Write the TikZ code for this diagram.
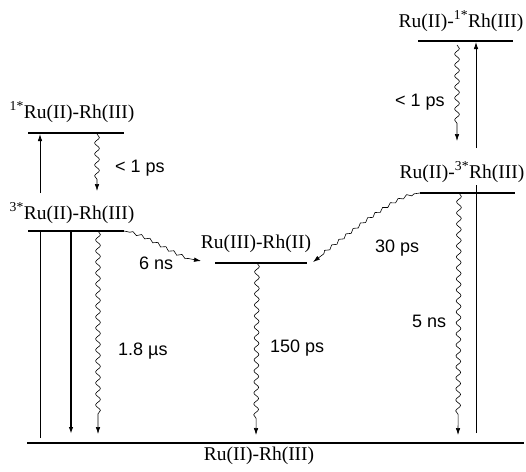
\documentclass[tikz,border=0pt]{standalone}
\usepackage{fontspec}
\setmainfont{Liberation Serif}
\newfontfamily\ratefont{Liberation Sans}
\usetikzlibrary{decorations.pathmorphing,arrows.meta}
\begin{document}
\begin{tikzpicture}[x=1pt,y=-1pt,
  level/.style={line width=1.1pt},
  state/.style={font=\fontsize{19.5}{22}\selectfont, inner sep=0pt, anchor=base},
  rate/.style={font=\ratefont\fontsize{18}{20}\selectfont, inner sep=0pt, anchor=base west},
  tip/.style={-{Latex[length=7pt,width=4.5pt]}},
  absorb/.style={line width=0.8pt},
  emit/.style={tip, line width=1.5pt},
  wavy/.style={tip, line width=0.6pt, decorate,
    decoration={snake, amplitude=2.4pt, segment length=11pt, post length=16pt}},
  stairs/.style={tip, line width=0.6pt, decorate,
    decoration={snake, amplitude=1.4pt, segment length=9pt, pre length=6pt, post length=12pt}}
]
\useasboundingbox (0,0) rectangle (526,471);

% energy levels
\coordinate (gsL) at (27,443);   \coordinate (gsR) at (524,443);
\coordinate (s1L) at (28,133);   \coordinate (s1R) at (124,133);
\coordinate (t1L) at (28,231);   \coordinate (t1R) at (124,231);
\coordinate (ctL) at (215,263);  \coordinate (ctR) at (307,263);
\coordinate (t2L) at (420,193);  \coordinate (t2R) at (515,193);
\coordinate (s2L) at (418,41);   \coordinate (s2R) at (513,41);

\draw[level] (gsL) -- (gsR);
\draw[level] (s1L) -- (s1R);
\draw[level] (t1L) -- (t1R);
\draw[level] (ctL) -- (ctR);
\draw[level] (t2L) -- (t2R);
\draw[level] (s2L) -- (s2R);

% state labels
\node[state] (gsLab) at (259,460) {Ru(II)-Rh(III)};
\node[state] (s1Lab) at (72,118) {\textsuperscript{1*}Ru(II)-Rh(III)};
\node[state] (t1Lab) at (72,219) {\textsuperscript{3*}Ru(II)-Rh(III)};
\node[state] (ctLab) at (256,248) {Ru(III)-Rh(II)};
\node[state] (t2Lab) at (462,178) {Ru(II)-\textsuperscript{3*}Rh(III)};
\node[state] (s2Lab) at (461,27) {Ru(II)-\textsuperscript{1*}Rh(III)};

% left: absorption into the Ru-centred singlet
\coordinate (aL0) at (40,438);  \coordinate (aL1) at (40,231);
\coordinate (aL2) at (40,193);  \coordinate (aL3) at (40,134);
\draw[absorb] (aL0) -- (aL1);
\draw[absorb, tip] (aL2) -- (aL3);

% left: singlet -> triplet
\coordinate (iscL0) at (97,134); \coordinate (iscL1) at (97,191);
\draw[wavy, decoration={post length=10pt}] (iscL0) -- (iscL1);
\node[rate] (iscLLab) at (115,172) {< 1 ps};

% left: triplet decays
\coordinate (emL0) at (71,231);  \coordinate (emL1) at (71,434);
\draw[emit] (emL0) -- (emL1);
\coordinate (nrL0) at (98,231);  \coordinate (nrL1) at (98,434);
\draw[wavy] (nrL0) -- (nrL1);
\node[rate] (nrLLab) at (118,355) {1.8 \textmu s};

% left triplet -> charge transfer
\coordinate (etL1) at (201,261);
\draw[stairs] (t1R) .. controls (150,235) and (172,258) .. (etL1);
\node[rate] (etLLab) at (139,269) {6 ns};

% charge transfer -> ground
\coordinate (ct0) at (257,263);  \coordinate (ct1) at (256,435);
\draw[wavy] (ct0) -- (ct1);
\node[rate] (ctRateLab) at (270,352) {150 ps};

% right: absorption into the Rh-centred singlet
\coordinate (aR0) at (476,433); \coordinate (aR1) at (476,185);
\coordinate (aR2) at (476,148); \coordinate (aR3) at (476,42);
\draw[absorb] (aR0) -- (aR1);
\draw[absorb, tip] (aR2) -- (aR3);

% right: singlet -> triplet
\coordinate (iscR0) at (457,45); \coordinate (iscR1) at (457,141);
\draw[wavy] (iscR0) -- (iscR1);
\node[rate] (iscRLab) at (395,106) {< 1 ps};

% right: triplet -> ground
\coordinate (nrR0) at (459,193); \coordinate (nrR1) at (458,435);
\draw[wavy] (nrR0) -- (nrR1);
\node[rate] (nrRLab) at (412,327) {5 ns};

% right triplet -> charge transfer
\coordinate (etR1) at (313,262);
\draw[stairs] (t2L) .. controls (398,193) and (348,236) .. (etR1);
\node[rate] (etRLab) at (375,252) {30 ps};
\end{tikzpicture}
\end{document}
